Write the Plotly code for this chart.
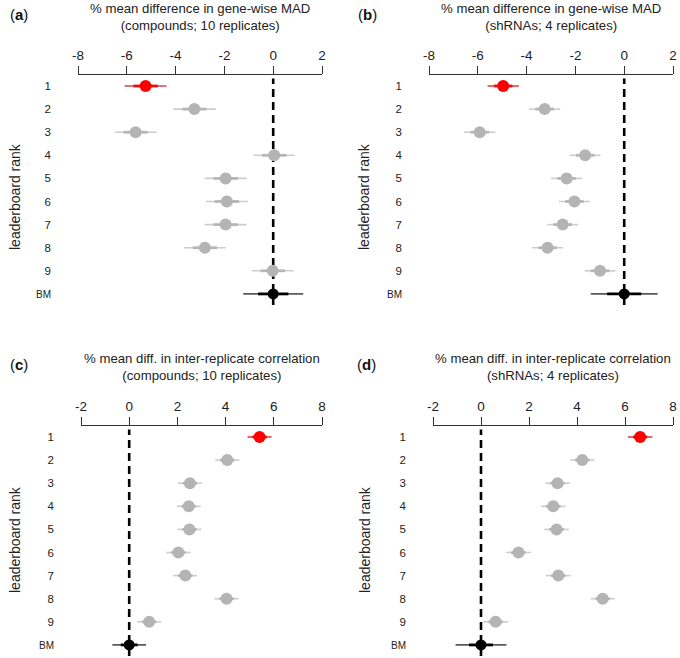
import plotly.graph_objects as go

# ---- data ----
rank_labels = ["1", "2", "3", "4", "5", "6", "7", "8", "9", "BM"]

# (a) % mean difference in gene-wise MAD, compounds
mad_cpd_est  = [-5.23, -3.23, -5.64, 0.04, -1.95, -1.90, -1.95, -2.80, -0.02, 0.00]
mad_cpd_ci   = [0.86, 0.87, 0.86, 0.85, 0.86, 0.86, 0.86, 0.86, 0.86, 1.23]
mad_cpd_ci50 = [0.50, 0.50, 0.50, 0.50, 0.50, 0.50, 0.50, 0.50, 0.50, 0.62]

# (b) % mean difference in gene-wise MAD, shRNAs
mad_shr_est  = [-4.96, -3.26, -5.92, -1.60, -2.36, -2.04, -2.52, -3.14, -0.99, 0.00]
mad_shr_ci   = [0.64, 0.64, 0.64, 0.63, 0.64, 0.64, 0.64, 0.64, 0.63, 1.37]
mad_shr_ci50 = [0.38, 0.38, 0.38, 0.38, 0.38, 0.38, 0.38, 0.38, 0.38, 0.70]

# (c) % mean diff. in inter-replicate correlation, compounds
cor_cpd_est  = [5.41, 4.07, 2.52, 2.47, 2.50, 2.04, 2.33, 4.04, 0.83, 0.00]
cor_cpd_ci   = [0.50, 0.50, 0.50, 0.50, 0.50, 0.50, 0.50, 0.50, 0.50, 0.70]
cor_cpd_ci50 = [0.30, 0.30, 0.30, 0.30, 0.30, 0.30, 0.30, 0.30, 0.30, 0.35]

# (d) % mean diff. in inter-replicate correlation, shRNAs
cor_shr_est  = [6.63, 4.22, 3.19, 3.01, 3.15, 1.56, 3.22, 5.07, 0.61, 0.00]
cor_shr_ci   = [0.51, 0.50, 0.51, 0.51, 0.51, 0.51, 0.51, 0.50, 0.51, 1.06]
cor_shr_ci50 = [0.30, 0.30, 0.30, 0.30, 0.30, 0.30, 0.30, 0.30, 0.30, 0.50]

mad_ticks = [-8, -6, -4, -2, 0, 2]
cor_ticks = [-2, 0, 2, 4, 6, 8]

panels = [
    dict(tag="a", est=mad_cpd_est, ci=mad_cpd_ci, ci50=mad_cpd_ci50, ticks=mad_ticks,
         title="% mean difference in gene-wise MAD<br>(compounds; 10 replicates)"),
    dict(tag="b", est=mad_shr_est, ci=mad_shr_ci, ci50=mad_shr_ci50, ticks=mad_ticks,
         title="% mean difference in gene-wise MAD<br>(shRNAs; 4 replicates)"),
    dict(tag="c", est=cor_cpd_est, ci=cor_cpd_ci, ci50=cor_cpd_ci50, ticks=cor_ticks,
         title="% mean diff. in inter-replicate correlation<br>(compounds; 10 replicates)"),
    dict(tag="d", est=cor_shr_est, ci=cor_shr_ci, ci50=cor_shr_ci50, ticks=cor_ticks,
         title="% mean diff. in inter-replicate correlation<br>(shRNAs; 4 replicates)"),
]

# ---- layout geometry (pixels in a 680x658 page) ----
W, H = 680, 658
boxes = [  # x0, x1, y_top, y_bottom
    (78, 322, 75, 305),
    (429, 673, 75, 305),
    (81, 322, 426, 656),
    (433, 673, 426, 656),
]
tag_pos = [(8, 14), (356, 14), (8, 364), (355, 364)]
ylab_x = [15, 364, 15, 365]
ylab_y = [197, 197, 540, 540]

FONT = "Liberation Sans, Arial, sans-serif"
GROUPS = [  # rows, dot colour, thin line colour, thick line colour, dot size
    ([0], "#ff0000", "#d64545", "#e01010", 12),
    ([1, 2, 3, 4, 5, 6, 7, 8], "#b4b4b4", "#cdcdcd", "#b6b6b6", 12),
    ([9], "#000000", "#5a5a5a", "#000000", 11),
]

fig = go.Figure()
layout = dict(
    width=W, height=H, margin=dict(l=0, r=0, t=0, b=0, autoexpand=False),
    paper_bgcolor="white", plot_bgcolor="white",
    showlegend=False, font=dict(family=FONT, color="#222"),
)
annotations = []
shapes = []

for k, p in enumerate(panels):
    n = "" if k == 0 else str(k + 1)
    xa, ya = "x" + n, "y" + n
    x0, x1, yt, yb = boxes[k]

    for rows, dot_col, thin_col, thick_col, msize in GROUPS:
        thin_x, thin_y, thick_x, thick_y = [], [], [], []
        for i in rows:
            e, c, c5 = p["est"][i], p["ci"][i], p["ci50"][i]
            thin_x += [e - c, e + c, None]
            thin_y += [i, i, None]
            thick_x += [e - c5, e + c5, None]
            thick_y += [i, i, None]
        fig.add_trace(go.Scatter(x=thin_x, y=thin_y, mode="lines", xaxis=xa, yaxis=ya,
                                 line=dict(color=thin_col, width=1.6), hoverinfo="skip"))
        fig.add_trace(go.Scatter(x=thick_x, y=thick_y, mode="lines", xaxis=xa, yaxis=ya,
                                 line=dict(color=thick_col, width=2.8), hoverinfo="skip"))
        fig.add_trace(go.Scatter(x=[p["est"][i] for i in rows], y=rows, mode="markers",
                                 xaxis=xa, yaxis=ya,
                                 marker=dict(color=dot_col, size=msize, line=dict(width=0))))

    ticks = p["ticks"]
    layout["xaxis" + n] = dict(
        domain=[x0 / W, x1 / W], anchor=ya, side="top", automargin=False,
        range=[ticks[0], ticks[-1]], tickvals=ticks, ticktext=[str(t) for t in ticks],
        showline=True, linecolor="#333", linewidth=1.3,
        ticks="outside", ticklen=8, tickwidth=1.3, tickcolor="#333",
        tickfont=dict(size=13.5, color="#222"),
        showgrid=False, zeroline=False, fixedrange=True,
    )
    layout["yaxis" + n] = dict(
        domain=[1 - yb / H, 1 - yt / H], anchor=xa, automargin=False,
        range=[9.48, -0.476],
        tickvals=list(range(len(rank_labels))),
        ticktext=[t if t != "BM" else '<span style="font-size:10px">BM</span>'
                  for t in rank_labels],
        tickfont=dict(size=11.5, color="#222"), ticklabelstandoff=26,
        showline=False, showgrid=False, zeroline=False, ticks="", fixedrange=True,
    )

    # dashed reference line at zero
    shapes.append(dict(type="line", xref=xa, yref=ya + " domain", x0=0, x1=0, y0=0, y1=0.985,
                       line=dict(color="black", width=2.6, dash="8px,5px"), layer="below"))

    annotations.append(dict(text=p["title"], xref="paper", yref="paper",
                            x=(x0 + x1) / 2 / W, y=1 - (yt - 58.5) / H,
                            xanchor="center", yanchor="middle", showarrow=False,
                            font=dict(size=13.2, color="#222")))
    tx, ty = tag_pos[k]
    annotations.append(dict(text="(<b>%s</b>)" % p["tag"], xref="paper", yref="paper",
                            x=tx / W, y=1 - ty / H, xanchor="left", yanchor="middle",
                            showarrow=False, font=dict(size=15, color="#111")))
    annotations.append(dict(text="leaderboard rank", xref="paper", yref="paper",
                            x=ylab_x[k] / W, y=1 - ylab_y[k] / H, textangle=-90,
                            xanchor="center", yanchor="middle", showarrow=False,
                            font=dict(size=14, color="#222")))

layout["annotations"] = annotations
layout["shapes"] = shapes
fig.update_layout(**layout)

# the page's default body margin would push the 680x658 figure off the window
fig.write_html("out.html", config={"displayModeBar": False},
               post_script="document.body.style.margin = '0';")
